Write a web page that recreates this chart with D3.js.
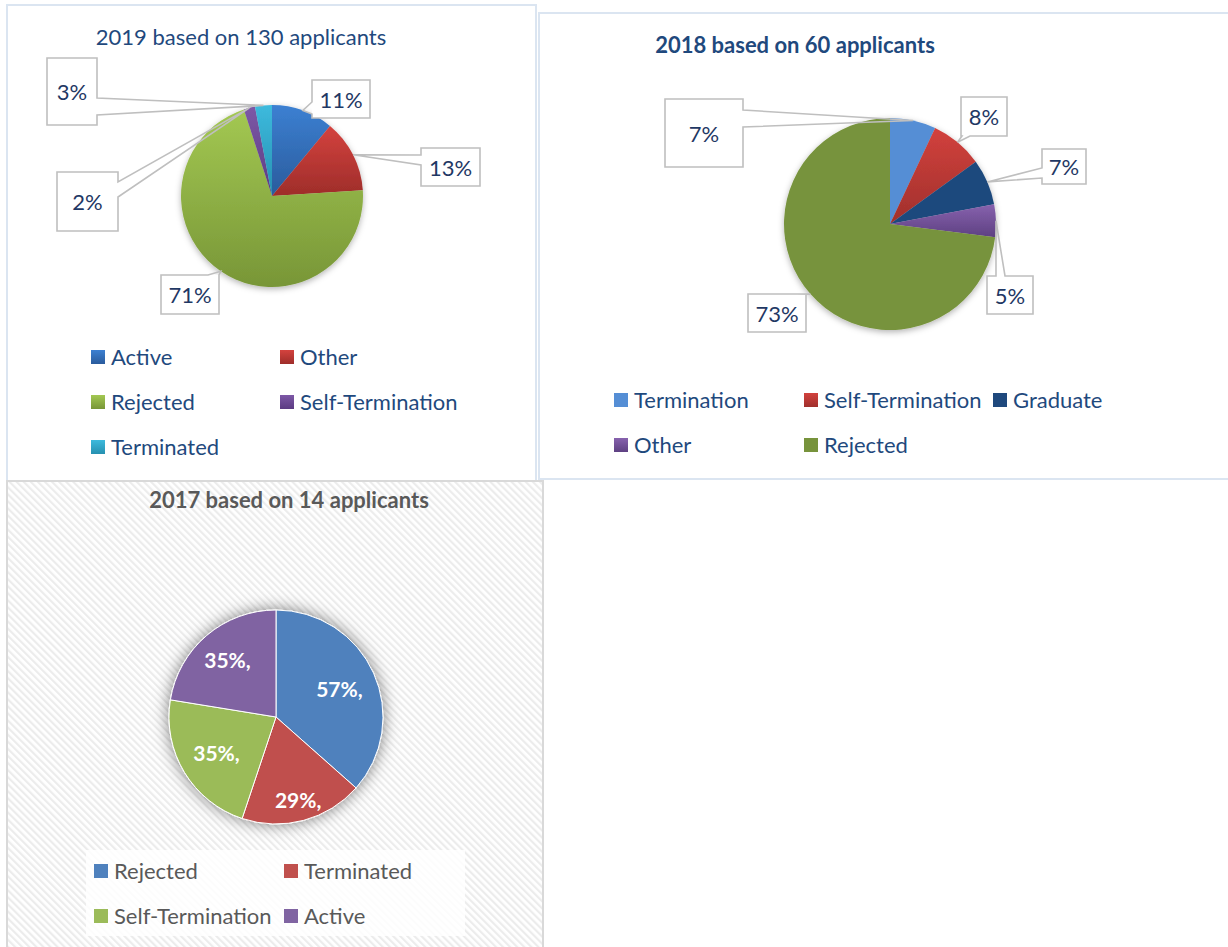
<!DOCTYPE html>
<html>
<head>
<meta charset="utf-8">
<script src="https://d3js.org/d3.v7.min.js"></script>
<style>
  body { margin: 0; background: #fff; }
  text { font-family: Lato, "Open Sans", sans-serif; }
</style>
</head>
<body>
<div id="chart"></div>
<script>
// data
var cats2019 = ["Active", "Other", "Rejected", "Self-Termination", "Terminated"];
var vals2019 = [11, 13, 71, 2, 3];

var cats2018 = ["Termination", "Self-Termination", "Graduate", "Other", "Rejected"];
var vals2018 = [7, 8, 7, 5, 73];

var cats2017 = ["Rejected", "Terminated", "Self-Termination", "Active"];
var vals2017 = [57, 29, 35, 35];

var title2019 = "2019 based on 130 applicants";
var title2018 = "2018 based on 60 applicants";
var title2017 = "2017 based on 14 applicants";

// colours: [top, bottom] of each slice gradient
var col2019 = [["#3c80d2", "#2a5b9c"], ["#d4423e", "#9e2d2a"], ["#a3c852", "#789637"],
               ["#7d58a6", "#5b3b82"], ["#3dbadd", "#2690b0"]];
var col2018 = [["#558ed5", "#558ed5"], ["#d2413d", "#a0302c"], ["#1f497d", "#1f497d"],
               ["#8762ae", "#5e4182"], ["#77933c", "#77933c"]];
var col2017 = [["#4f81bd", "#4f81bd"], ["#c0504d", "#c0504d"], ["#9bbb59", "#9bbb59"],
               ["#8064a2", "#8064a2"]];

var width = 1228, height = 947;

var svg = d3.select("#chart")
  .append("svg")
    .attr("width", width)
    .attr("height", height);

var defs = svg.append("defs");

// hatch for the 2017 panel
defs.append("pattern")
    .attr("id", "hatch")
    .attr("patternUnits", "userSpaceOnUse")
    .attr("width", 5)
    .attr("height", 5)
    .attr("patternTransform", "rotate(-45)")
  .call(function(p) {
    p.append("rect").attr("width", 5).attr("height", 5).attr("fill", "#ffffff");
    p.append("rect").attr("width", 2.2).attr("height", 5).attr("fill", "#ececec");
  });

defs.append("filter")
    .attr("id", "shadow")
    .attr("x", "-20%").attr("y", "-20%").attr("width", "140%").attr("height", "140%")
  .append("feDropShadow")
    .attr("dx", 0).attr("dy", 2)
    .attr("stdDeviation", 3)
    .attr("flood-color", "#000")
    .attr("flood-opacity", 0.3);

defs.append("filter")
    .attr("id", "glow")
    .attr("x", "-30%").attr("y", "-30%").attr("width", "160%").attr("height", "160%")
  .append("feDropShadow")
    .attr("dx", 0).attr("dy", 0)
    .attr("stdDeviation", 8)
    .attr("flood-color", "#000")
    .attr("flood-opacity", 0.5);

function gradient(id, c) {
  var g = defs.append("linearGradient")
    .attr("id", id)
    .attr("x1", 0).attr("y1", 0).attr("x2", 0).attr("y2", 1);
  g.append("stop").attr("offset", "0%").attr("stop-color", c[0]);
  g.append("stop").attr("offset", "100%").attr("stop-color", c[1]);
  return "url(#" + id + ")";
}

var fill2019 = col2019.map(function(c, i) { return gradient("g19-" + i, c); });
var fill2018 = col2018.map(function(c, i) { return gradient("g18-" + i, c); });
var fill2017 = col2017.map(function(c, i) { return c[0]; });

// panels
svg.append("rect")
    .attr("x", 7).attr("y", 5).attr("width", 529).attr("height", 476)
    .attr("fill", "#fff").attr("stroke", "#dbe5f1").attr("stroke-width", 2);
svg.append("rect")
    .attr("x", 539).attr("y", 13).attr("width", 700).attr("height", 466)
    .attr("fill", "#fff").attr("stroke", "#dbe5f1").attr("stroke-width", 2);
svg.append("rect")
    .attr("x", 7).attr("y", 481).attr("width", 536).attr("height", 480)
    .attr("fill", "url(#hatch)").attr("stroke", "#d9d9d9").attr("stroke-width", 2);

var pie = d3.pie().sort(null).value(function(d) { return d; });

function calloutPath(b, side, base, tip) {
  var x0 = b[0], y0 = b[1], x1 = b[0] + b[2], y1 = b[1] + b[3];
  var p;
  if (side == "top")    p = [[x0, y0], [x0 + base[0], y0], tip, [x0 + base[1], y0], [x1, y0], [x1, y1], [x0, y1]];
  if (side == "right")  p = [[x0, y0], [x1, y0], [x1, y0 + base[0]], tip, [x1, y0 + base[1]], [x1, y1], [x0, y1]];
  if (side == "bottom") p = [[x0, y0], [x1, y0], [x1, y1], [x0 + base[1], y1], tip, [x0 + base[0], y1], [x0, y1]];
  if (side == "left")   p = [[x0, y0], [x1, y0], [x1, y1], [x0, y1], [x0, y0 + base[1]], tip, [x0, y0 + base[0]]];
  return "M" + p.join("L") + "Z";
}

function drawPie(cfg) {
  var arcs = pie(cfg.values);
  var arc = d3.arc().innerRadius(0).outerRadius(cfg.r);
  var edge = d3.arc().innerRadius(cfg.r).outerRadius(cfg.r);

  var g = svg.append("g")
    .attr("transform", "translate(" + cfg.cx + "," + cfg.cy + ")");

  g.append("g")
      .attr("filter", cfg.filter)
    .selectAll("path")
    .data(arcs)
    .enter()
    .append("path")
      .attr("d", arc)
      .attr("fill", function(d, i) { return cfg.fills[i]; })
      .attr("stroke", cfg.sep)
      .attr("stroke-width", cfg.sepWidth);

  // callout boxes with a pointer to the slice
  if (cfg.callouts) {
    arcs.forEach(function(d, i) {
      var c = cfg.callouts[i];
      var t = edge.centroid(d);
      var tip = [t[0] + cfg.cx, t[1] + cfg.cy];
      svg.append("rect")
        .attr("x", c.box[0]).attr("y", c.box[1])
        .attr("width", c.box[2]).attr("height", c.box[3])
        .attr("fill", "#fff");
      svg.append("path")
        .attr("d", calloutPath(c.box, c.side, c.base, tip))
        .attr("fill", "none")
        .attr("stroke", "#bfbfbf")
        .attr("stroke-width", 1.6)
        .attr("stroke-linejoin", "miter");
      svg.append("text")
        .attr("x", c.box[0] + c.box[2] / 2)
        .attr("y", c.box[1] + c.box[3] / 2)
        .attr("text-anchor", "middle")
        .attr("dominant-baseline", "central")
        .attr("font-size", 22)
        .attr("fill", "#1f3864")
        .text(d.data + "%");
    });
  }

  // labels inside the slices
  if (cfg.inner) {
    g.selectAll("text.inner")
      .data(arcs)
      .enter()
      .append("text")
        .attr("class", "inner")
        .attr("transform", function(d, i) {
          var a = d3.arc().innerRadius(cfg.r * cfg.inner[i]).outerRadius(cfg.r * cfg.inner[i]);
          return "translate(" + a.centroid(d) + ")";
        })
        .attr("text-anchor", "middle")
        .attr("dominant-baseline", "central")
        .attr("font-size", 21)
        .attr("font-weight", "bold")
        .attr("fill", "#fff")
        .text(function(d) { return d.data + "%,"; });
  }

  // title
  svg.append("text")
    .attr("x", cfg.title[1])
    .attr("y", cfg.title[2])
    .attr("text-anchor", "middle")
    .attr("font-size", cfg.title[3])
    .attr("font-weight", cfg.title[4])
    .attr("fill", cfg.title[5])
    .text(cfg.title[0]);

  // legend
  var lg = svg.append("g");
  cfg.cats.forEach(function(name, i) {
    var p = cfg.legend.pos[i];
    lg.append("rect")
      .attr("x", p[0]).attr("y", p[1] - 7)
      .attr("width", 14).attr("height", 14)
      .attr("fill", cfg.fills[i]);
    lg.append("text")
      .attr("x", p[0] + 20)
      .attr("y", p[1] - 1)
      .attr("dominant-baseline", "central")
      .attr("font-size", 22)
      .attr("fill", cfg.legend.color)
      .text(name);
  });
}

// 2019
drawPie({
  values: vals2019, cats: cats2019, fills: fill2019,
  cx: 272, cy: 196, r: 91, filter: "url(#shadow)", sep: "none", sepWidth: 0,
  title: [title2019, 241, 45, 22, "normal", "#1f497d"],
  callouts: [
    {box: [312, 80, 58, 38], side: "left", base: [22, 34]},
    {box: [421, 148, 59, 38], side: "left", base: [7, 17]},
    {box: [161, 275, 58, 39], side: "top", base: [47, 58]},
    {box: [57, 172, 61, 59], side: "right", base: [10, 25]},
    {box: [47, 58, 50, 67], side: "right", base: [40, 57]}
  ],
  legend: {color: "#1f497d", pos: [[91, 357], [280, 357], [91, 402], [280, 402], [91, 447]]}
});

// 2018
drawPie({
  values: vals2018, cats: cats2018, fills: fill2018,
  cx: 890, cy: 224, r: 106, filter: "url(#shadow)", sep: "none", sepWidth: 0,
  title: [title2018, 795, 53, 22, "bold", "#1f497d"],
  callouts: [
    {box: [665, 99, 78, 68], side: "right", base: [11, 28]},
    {box: [961, 97, 46, 39], side: "bottom", base: [1, 9]},
    {box: [1042, 149, 44, 35], side: "left", base: [19, 29]},
    {box: [987, 276, 46, 38], side: "top", base: [9, 18]},
    {box: [748, 294, 58, 38], side: "top", base: [49, 58]}
  ],
  legend: {color: "#1f497d", pos: [[614, 400], [804, 400], [993, 400], [614, 445], [804, 445]]}
});

// 2017 legend backdrop
svg.append("rect")
  .attr("x", 86).attr("y", 850).attr("width", 379).attr("height", 86)
  .attr("fill", "#fff").attr("fill-opacity", 0.85);

drawPie({
  values: vals2017, cats: cats2017, fills: fill2017,
  cx: 276, cy: 717, r: 107, filter: "url(#glow)", sep: "#fff", sepWidth: 1,
  title: [title2017, 289, 508, 22, "bold", "#595959"],
  inner: [0.65, 0.8, 0.65, 0.7],
  legend: {color: "#595959", pos: [[94, 871], [284, 871], [94, 916], [284, 916]]}
});
</script>
</body>
</html>
